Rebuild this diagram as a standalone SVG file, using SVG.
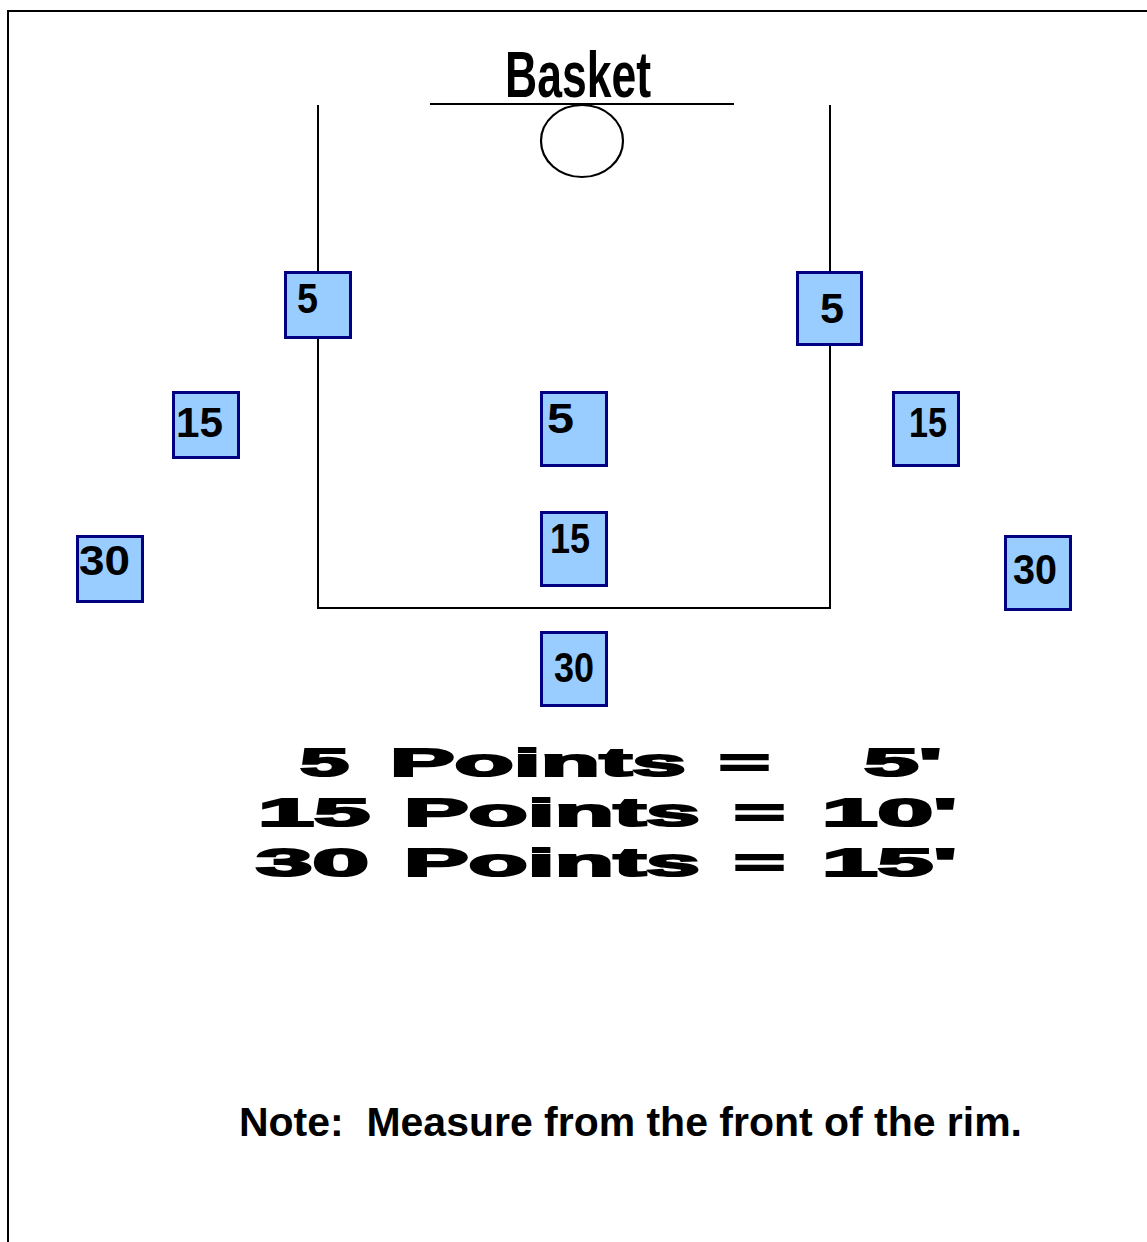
<svg xmlns="http://www.w3.org/2000/svg" width="1147" height="1242" viewBox="0 0 1147 1242">
<style>
.ln{stroke:#000;stroke-width:2;fill:none}
.box{fill:#99CCFF;stroke:#000080;stroke-width:3}
.num{font-family:"Liberation Sans",Arial,sans-serif;font-weight:bold;font-size:42px;fill:#000}
.big{font-family:"Liberation Sans",Arial,sans-serif;font-weight:bold;font-size:38px;fill:#000;stroke:#000;stroke-width:2}
.note{font-family:"Liberation Sans",Arial,sans-serif;font-weight:bold;font-size:40px;fill:#000;white-space:pre}
</style>
<rect width="1147" height="1242" fill="#fff"/>
<g id="frame">
<path class="ln" d="M8 1242 V11 H1147"/>
</g>
<g id="connectors">
<path class="ln" d="M318 105 V608 H830 V105"/>
<path class="ln" d="M430 104 H734"/>
</g>
<g id="basket">
<text x="505" y="97" font-family="Liberation Sans, Arial, sans-serif" font-weight="bold" font-size="64" textLength="146" lengthAdjust="spacingAndGlyphs">Basket</text>
<ellipse cx="582" cy="141" rx="41" ry="36" fill="#fff" stroke="#000" stroke-width="2.2"/>
</g>
<g id="n5-left"><rect class="box" x="285.5" y="272.5" width="65" height="65"/><text class="num" x="297" y="313" textLength="21" lengthAdjust="spacingAndGlyphs">5</text></g>
<g id="n5-right"><rect class="box" x="797.5" y="272.5" width="64" height="72"/><text class="num" x="820" y="323" textLength="24" lengthAdjust="spacingAndGlyphs">5</text></g>
<g id="n15-left"><rect class="box" x="173.5" y="392.5" width="65" height="65"/><text class="num" x="176" y="437" textLength="47" lengthAdjust="spacingAndGlyphs">15</text></g>
<g id="n5-center"><rect class="box" x="541.5" y="392.5" width="65" height="73"/><text class="num" x="547" y="433" textLength="27" lengthAdjust="spacingAndGlyphs">5</text></g>
<g id="n15-right"><rect class="box" x="893.5" y="392.5" width="65" height="73"/><text class="num" x="909" y="437" textLength="38" lengthAdjust="spacingAndGlyphs">15</text></g>
<g id="n15-center"><rect class="box" x="541.5" y="512.5" width="65" height="73"/><text class="num" x="550" y="553" textLength="40" lengthAdjust="spacingAndGlyphs">15</text></g>
<g id="n30-left"><rect class="box" x="77.5" y="536.5" width="65" height="65"/><text class="num" x="79" y="575" textLength="51" lengthAdjust="spacingAndGlyphs">30</text></g>
<g id="n30-right"><rect class="box" x="1005.5" y="536.5" width="65" height="73"/><text class="num" x="1013" y="584" textLength="44" lengthAdjust="spacingAndGlyphs">30</text></g>
<g id="n30-center"><rect class="box" x="541.5" y="632.5" width="65" height="73"/><text class="num" x="554" y="682" textLength="40" lengthAdjust="spacingAndGlyphs">30</text></g>
<g id="legend">
<text class="big" x="300" y="776" textLength="49" lengthAdjust="spacingAndGlyphs">5</text>
<text class="big" x="390" y="776" textLength="296" lengthAdjust="spacingAndGlyphs">Points</text>
<text class="big" x="719" y="776" textLength="51" lengthAdjust="spacingAndGlyphs">=</text>
<text class="big" x="864" y="776" textLength="78" lengthAdjust="spacingAndGlyphs">5'</text>
<text class="big" x="258" y="826" textLength="112" lengthAdjust="spacingAndGlyphs">15</text>
<text class="big" x="404" y="826" textLength="296" lengthAdjust="spacingAndGlyphs">Points</text>
<text class="big" x="734" y="826" textLength="51" lengthAdjust="spacingAndGlyphs">=</text>
<text class="big" x="822" y="826" textLength="135" lengthAdjust="spacingAndGlyphs">10'</text>
<text class="big" x="256" y="876" textLength="113" lengthAdjust="spacingAndGlyphs">30</text>
<text class="big" x="404" y="876" textLength="296" lengthAdjust="spacingAndGlyphs">Points</text>
<text class="big" x="734" y="876" textLength="51" lengthAdjust="spacingAndGlyphs">=</text>
<text class="big" x="822" y="876" textLength="135" lengthAdjust="spacingAndGlyphs">15'</text>
</g>
<g id="note">
<text class="note" x="239" y="1136" textLength="783" lengthAdjust="spacingAndGlyphs" xml:space="preserve">Note:  Measure from the front of the rim.</text>
</g>
</svg>
